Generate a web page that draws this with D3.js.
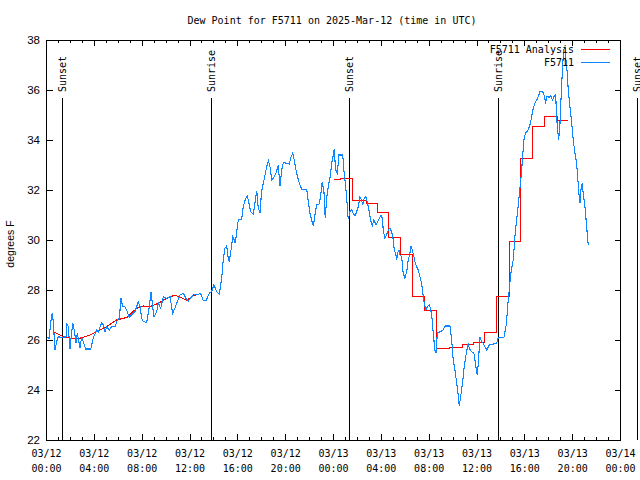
<!DOCTYPE html>
<html><head><meta charset="utf-8">
<script src="https://cdn.jsdelivr.net/npm/d3@7"></script>
<style>body{margin:0;background:#fff}svg{display:block}</style>
</head><body>
<svg id="c" width="640" height="480"></svg>
<script>
const title = "Dew Point for F5711 on 2025-Mar-12 (time in UTC)";
const yLabel = "degrees F";
const startDate = "2025-03-12T00:00:00Z";
const xTickHours = [0,4,8,12,16,20,24,28,32,36,40,44,48];
const yTicks = [22,24,26,28,30,32,34,36,38];
const seriesNames = ["F5711 Analysis","F5711"];
const eventLabels = ["Sunset","Sunrise","Sunset","Sunrise","Sunset"];
const eventHours = [1.32,13.78,25.32,37.78,49.4];

// Observations (hours since 03/12 00:00 UTC, degrees F)
const obsHours = [0.04,0.21,0.38,0.48,0.57,0.71,0.85,0.99,1.27,1.63,1.69,1.82,1.96,2.19,2.32,2.47,2.58,2.80,2.94,3.08,3.28,3.70,3.91,4.20,4.33,4.62,4.75,4.89,5.03,5.25,5.45,5.73,5.92,6.09,6.23,6.37,6.56,6.76,6.92,7.12,7.40,7.68,7.82,7.96,8.09,8.38,8.60,8.74,8.88,8.99,9.21,9.35,9.55,9.77,10.05,10.33,10.55,10.74,10.89,11.16,11.44,11.66,11.86,12.14,12.33,12.61,12.89,13.11,13.34,13.61,13.81,14.00,14.23,14.45,14.65,14.78,14.92,15.07,15.18,15.28,15.40,15.57,15.70,15.79,15.90,16.04,16.32,16.45,16.66,16.79,16.93,17.07,17.29,17.43,17.58,17.71,17.85,17.99,18.13,18.27,18.41,18.55,18.69,18.83,18.96,19.19,19.38,19.52,19.67,19.80,20.13,20.30,20.44,20.59,20.72,20.86,21.00,21.14,21.34,21.76,21.89,22.03,22.17,22.31,22.45,22.59,22.81,22.93,23.06,23.20,23.31,23.43,23.56,23.70,23.85,23.98,24.06,24.18,24.31,24.46,24.77,24.87,25.02,25.15,25.23,25.38,25.52,25.65,25.79,25.94,26.07,26.21,26.35,26.44,26.57,26.71,26.82,26.96,27.11,27.24,27.38,27.55,27.69,27.83,27.97,28.08,28.16,28.30,28.44,28.58,28.72,28.86,29.00,29.08,29.20,29.28,29.36,29.47,29.56,29.70,29.83,29.97,30.12,30.25,30.39,30.48,30.59,30.73,30.81,30.95,31.09,31.23,31.37,31.51,31.59,31.73,31.84,32.01,32.12,32.26,32.34,32.48,32.57,32.68,32.90,33.18,33.32,33.74,33.88,34.01,34.16,34.30,34.43,34.52,34.63,34.77,34.93,35.08,35.27,35.35,35.55,35.74,35.91,36.02,36.10,36.25,36.39,36.52,36.81,37.02,37.64,37.78,38.25,38.42,38.53,38.61,38.84,39.03,39.17,39.31,39.45,39.59,39.73,39.82,39.95,40.09,40.28,40.43,40.57,40.70,40.84,40.99,41.12,41.26,41.49,41.60,41.74,41.87,42.04,42.16,42.32,42.43,42.58,42.66,42.74,42.83,42.94,43.02,43.13,43.24,43.35,43.44,43.55,43.63,43.77,43.91,44.05,44.19,44.33,44.42,44.52,44.61,44.69,44.80,44.88,45.03,45.17,45.30];
const obsValues = [26.1,26.07,26.8,27.07,26.7,25.6,25.93,26.13,26.1,26.13,26.67,26.53,25.64,26.67,26.4,25.88,26.27,25.68,26.13,25.93,25.64,25.64,26.08,26.4,26.33,26.69,26.6,26.33,26.51,26.4,26.53,26.53,26.8,26.87,27.67,27.33,27.33,27.13,26.9,27.0,27.13,27.53,27.33,26.87,26.73,26.71,27.33,27.93,27.33,26.93,27.13,27.47,27.27,27.73,27.67,27.73,27.07,27.27,27.47,27.8,27.87,27.67,27.56,27.73,27.84,27.8,27.87,27.57,27.57,27.87,27.93,28.2,27.93,27.84,28.47,29.2,29.67,29.76,29.33,29.13,29.49,30.13,30.0,29.87,30.33,30.8,30.83,31.33,31.67,31.76,31.47,31.13,31.04,31.47,31.97,31.27,31.09,31.96,32.27,32.6,32.93,33.17,32.93,32.4,32.47,32.67,33.0,32.16,32.8,33.09,33.07,33.04,33.31,33.47,33.2,32.8,32.53,32.27,32.03,32.03,31.53,31.07,30.8,30.56,31.0,31.4,31.44,31.8,32.33,31.93,30.87,31.67,32.13,32.47,33.07,33.4,33.63,32.8,32.67,33.4,33.4,32.8,32.13,31.4,30.83,31.13,31.2,31.07,30.96,31.13,31.33,31.73,31.6,31.4,31.67,31.73,31.53,31.2,30.8,30.56,30.8,30.6,30.73,30.87,31.0,30.87,30.4,30.07,30.2,30.4,30.47,30.33,30.0,29.6,29.47,29.2,29.47,29.6,29.4,29.33,28.67,28.47,28.73,29.2,29.47,29.76,29.6,29.33,29.13,28.93,28.8,28.53,28.27,27.73,27.47,27.2,27.33,27.4,27.27,26.8,26.27,25.6,25.47,26.27,26.33,26.4,26.56,26.56,26.0,25.2,24.8,24.27,23.8,23.36,23.73,24.2,24.93,25.4,25.87,25.67,25.53,25.47,24.93,24.6,25.0,26.13,25.93,25.87,25.6,25.8,25.87,26.1,26.1,26.53,27.07,27.6,28.7,29.2,30.13,30.8,31.4,32.07,32.73,33.4,34.13,34.29,34.4,34.6,34.93,35.27,35.47,35.6,35.73,35.93,35.93,35.8,35.53,35.76,35.7,35.76,35.6,35.73,35.8,34.93,34.4,34.0,34.67,35.6,36.67,37.6,37.73,37.2,36.67,36.0,35.33,34.73,34.0,33.47,33.07,32.53,31.87,31.47,32.0,32.27,31.87,31.33,30.53,29.8];

// Analysis, first (smooth) part
const anaHours1 = [0.57,1.13,1.55,2.13,2.80,3.64,4.20,5.03,5.87,6.71,7.54,8.09,8.65,9.35,10.05,10.74,11.16,11.72,12.27,12.78];
const anaValues1 = [26.33,26.2,26.1,26.07,26.07,26.2,26.33,26.53,26.8,26.9,27.27,27.36,27.33,27.47,27.67,27.8,27.71,27.6,27.76,27.84];
// Analysis, second (hourly step) part: start hour of each step and its value
const anaStepHours = [24.04,24.62,25.60,26.77,27.69,28.64,29.64,30.64,31.61,32.65,33.70,34.78,35.74,36.66,37.67,38.71,39.63,40.64,41.68,42.77,43.60];
const anaStepValues = [32.43,32.47,31.6,31.47,31.11,30.11,29.43,27.73,27.2,25.67,25.71,25.84,25.89,26.3,27.73,29.93,33.27,34.56,34.93,34.8,34.8];

const RED = "#ff0000", BLUE = "#0d86ff";
const MONO = "'DejaVu Sans Mono', monospace";
const SANS = "'Liberation Sans', Arial, sans-serif";

const svg = d3.select("#c");
const L = 46.5, R = 620.5, T = 40, B = 440;
const t0 = new Date(startDate).getTime();
const toDate = h => new Date(t0 + h * 3600e3);
const x = d3.scaleUtc().domain([toDate(0), toDate(48)]).range([L, R]);
const y = d3.scaleLinear().domain([22, 38]).range([B, T]);

svg.append("rect").attr("width", 640).attr("height", 480).attr("fill", "#fff");

// ticks
function tickAxis(axis, tr) {
  const g = svg.append("g").attr("transform", tr).attr("shape-rendering", "crispEdges").call(axis);
  g.select(".domain").remove();
  g.selectAll("line").attr("stroke", "#000");
  return g;
}
const minorH = d3.range(0, 49);
tickAxis(d3.axisBottom(x).tickValues(minorH.map(toDate)).tickSize(-3).tickFormat("").offset(0), `translate(0,${B})`);
tickAxis(d3.axisBottom(x).tickValues(xTickHours.map(toDate)).tickSize(-6).tickFormat("").offset(0), `translate(0,${B})`);
tickAxis(d3.axisTop(x).tickValues(minorH.map(toDate)).tickSize(-3).tickFormat("").offset(0), `translate(0,${T})`);
tickAxis(d3.axisTop(x).tickValues(xTickHours.map(toDate)).tickSize(-6).tickFormat("").offset(0), `translate(0,${T})`);
tickAxis(d3.axisLeft(y).tickValues(yTicks).tickSize(-6).tickFormat("").offset(0), `translate(${L},0)`);
tickAxis(d3.axisRight(y).tickValues(yTicks).tickSize(-6).tickFormat("").offset(0), `translate(${R},0)`);

// frame
svg.append("rect").attr("x", L).attr("y", T).attr("width", R - L).attr("height", B - T)
  .attr("fill", "none").attr("stroke", "#000").attr("shape-rendering", "crispEdges");

// y tick labels
svg.append("g").selectAll("text").data(yTicks).join("text")
  .attr("x", 40).attr("y", d => y(d)).attr("dy", "0.36em")
  .attr("text-anchor", "end").attr("font-family", SANS).attr("font-size", 11.5)
  .text(d => d);

// x tick labels
const fD = d3.utcFormat("%m/%d"), fT = d3.utcFormat("%H:%M");
const xl = svg.append("g").selectAll("text").data(xTickHours).join("text")
  .attr("text-anchor", "middle").attr("font-family", MONO).attr("font-size", 10);
xl.append("tspan").attr("x", d => x(toDate(d))).attr("y", 453).attr("dy", "0.35em").text(d => fD(toDate(d)));
xl.append("tspan").attr("x", d => x(toDate(d))).attr("y", 468).attr("dy", "0.35em").text(d => fT(toDate(d)));

// title & y label
svg.append("text").attr("x", 332).attr("y", 20.5).attr("dy", "0.35em").attr("text-anchor", "middle")
  .attr("font-family", MONO).attr("font-size", 10).text(title);
svg.append("text").attr("transform", "translate(10,244) rotate(-90)").attr("dy", "0.35em")
  .attr("text-anchor", "middle").attr("font-family", SANS).attr("font-size", 10.5).text(yLabel);

// sunrise/sunset events
const ev = svg.append("g").selectAll("g").data(eventHours.map((h, i) => ({h, label: eventLabels[i]}))).join("g");
ev.append("line").attr("x1", d => x(toDate(d.h))).attr("x2", d => x(toDate(d.h)))
  .attr("y1", 98).attr("y2", B).attr("stroke", "#000").attr("shape-rendering", "crispEdges");
ev.append("text").attr("transform", d => `translate(${x(toDate(d.h))},92) rotate(-90)`)
  .attr("dy", "0.35em").attr("text-anchor", "start").attr("font-family", MONO).attr("font-size", 10)
  .text(d => d.label);

// data lines
const line = d3.line().x(d => x(toDate(d[0]))).y(d => y(d[1]));
const ana1 = anaHours1.map((h, i) => [h, anaValues1[i]]);
const ana2 = anaStepHours.map((h, i) => [h, anaStepValues[i]]);
const obs = obsHours.map((h, i) => [h, obsValues[i]]);
svg.append("path").attr("d", line(ana1)).attr("fill", "none").attr("stroke", RED).attr("stroke-width", 1.1).attr("shape-rendering", "crispEdges");
svg.append("path").attr("d", line.curve(d3.curveStepAfter)(ana2)).attr("fill", "none").attr("stroke", RED).attr("stroke-width", 1).attr("shape-rendering", "crispEdges");
line.curve(d3.curveLinear);
svg.append("path").attr("d", line(obs)).attr("fill", "none").attr("stroke", BLUE).attr("stroke-width", 1.1).attr("shape-rendering", "crispEdges");

// legend
const leg = svg.append("g").selectAll("g").data(seriesNames.map((n, i) => ({n, c: i ? BLUE : RED, yy: i ? 62.5 : 49.5}))).join("g");
leg.append("text").attr("x", 574).attr("y", d => d.yy).attr("dy", "0.35em").attr("text-anchor", "end")
  .attr("font-family", MONO).attr("font-size", 10).text(d => d.n);
leg.append("line").attr("x1", 581).attr("x2", 610).attr("y1", d => d.yy).attr("y2", d => d.yy)
  .attr("stroke", d => d.c).attr("shape-rendering", "crispEdges");
</script>
</body></html>
